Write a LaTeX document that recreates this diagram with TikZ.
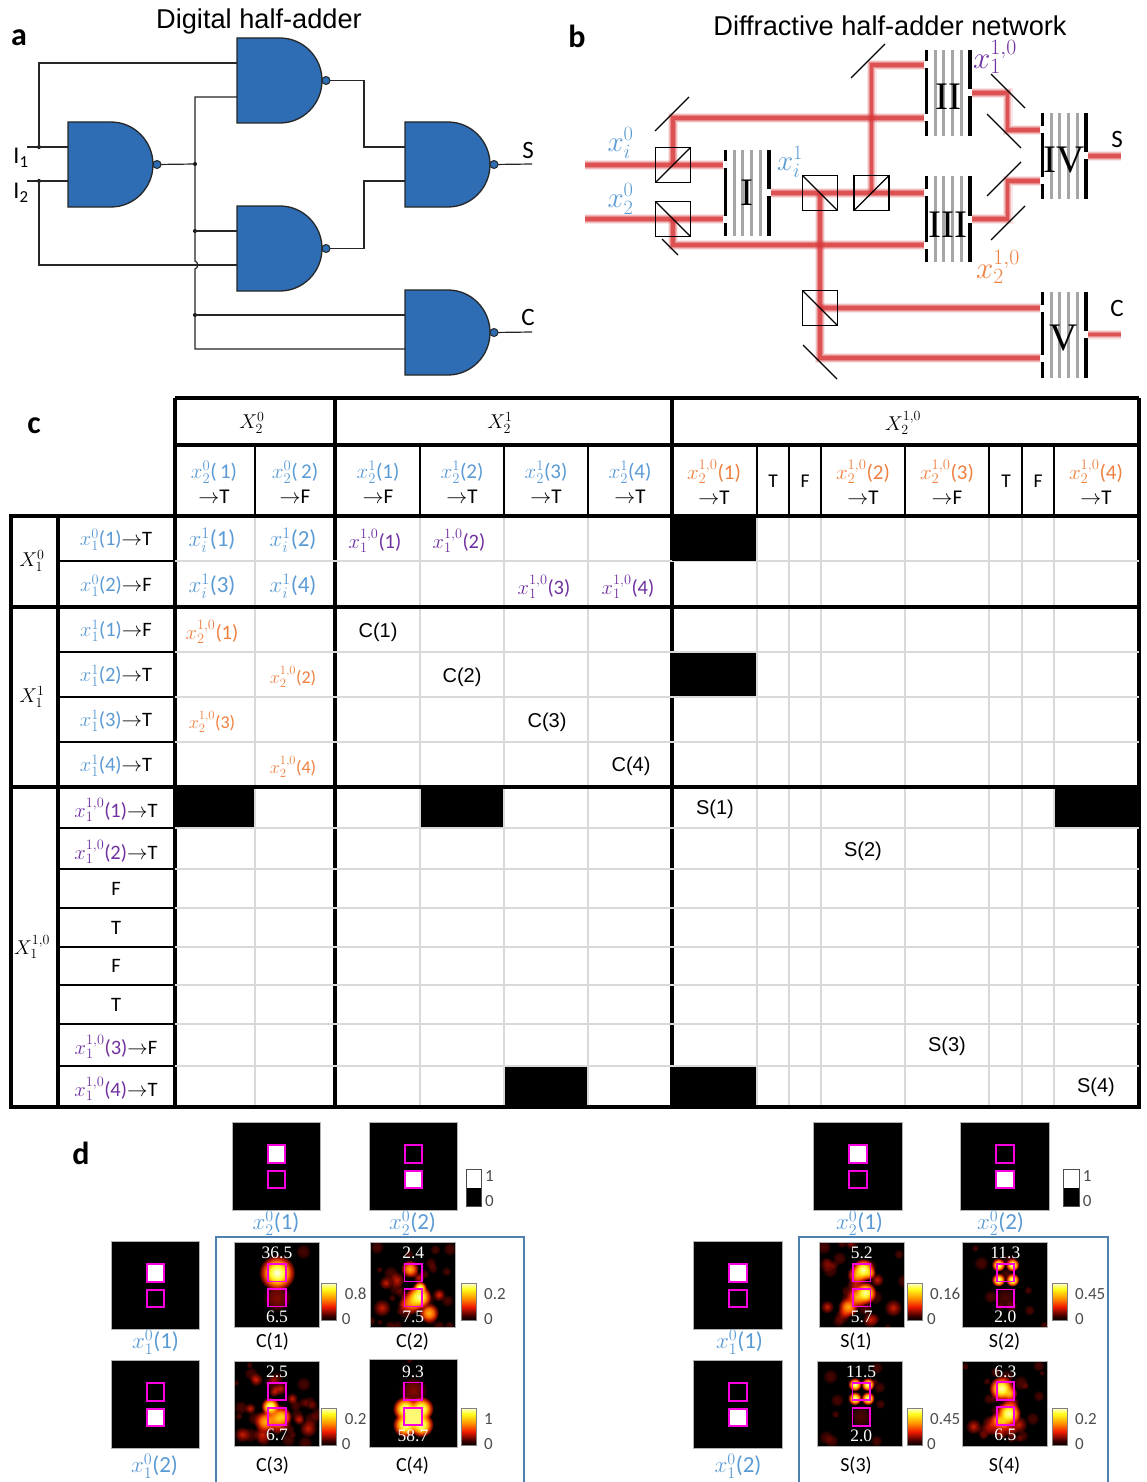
\documentclass[tikz,border=0pt]{standalone}
\usepackage{fix-cm}
\usepackage{fontspec}
\setmainfont{Carlito}
\newfontfamily\arialfont{Liberation Sans}
\newfontfamily\timesfont{Liberation Serif}
\usetikzlibrary{arrows.meta,positioning,calc,backgrounds}
\definecolor{SoftBlue}{RGB}{91,155,213}
\definecolor{SoftOrange}{RGB}{240,128,64}
\definecolor{SoftPurple}{RGB}{112,48,160}
\definecolor{GateBlue}{RGB}{46,109,180}
\definecolor{BeamRed}{RGB}{217,56,58}
\definecolor{BoxBlue}{RGB}{79,129,176}
\definecolor{GridGray}{RGB}{217,217,217}
\definecolor{MaskPink}{RGB}{250,0,225}
\pgfdeclareradialshading{hotA}{\pgfpointorigin}{rgb(0bp)=(1,1,0.7); rgb(9bp)=(1,0.95,0.15); rgb(15bp)=(1,0.5,0); rgb(20bp)=(0.7,0.08,0); rgb(25bp)=(0,0,0); rgb(50bp)=(0,0,0)}
\pgfdeclareradialshading{hotB}{\pgfpointorigin}{rgb(0bp)=(1,0.72,0.08); rgb(10bp)=(1,0.42,0); rgb(18bp)=(0.6,0.06,0); rgb(25bp)=(0,0,0); rgb(50bp)=(0,0,0)}
\pgfdeclareradialshading{hotC}{\pgfpointorigin}{rgb(0bp)=(0.8,0.12,0); rgb(12bp)=(0.45,0.03,0); rgb(25bp)=(0,0,0); rgb(50bp)=(0,0,0)}
\pgfdeclareradialshading{hotD}{\pgfpointorigin}{rgb(0bp)=(0.3,0.02,0); rgb(15bp)=(0.2,0.01,0); rgb(25bp)=(0,0,0); rgb(50bp)=(0,0,0)}
\pgfdeclareverticalshading{hotbar}{100bp}{rgb(0bp)=(0,0,0); rgb(25bp)=(0,0,0); rgb(32bp)=(0.25,0,0); rgb(44bp)=(0.95,0.1,0); rgb(56bp)=(1,0.6,0); rgb(68bp)=(1,1,0.1); rgb(75bp)=(1,1,0.75); rgb(100bp)=(1,1,0.75)}
\newcommand{\fsz}[1]{\fontsize{#1}{#1}\selectfont}
\newcommand{\xlab}[4]{\textcolor{#1}{$x_{#2}^{#3}$(#4)}}
% nand gate, top left corner given
\newcommand{\nandgate}[3]{
  \begin{scope}[shift={(#2,#3)}]
    \draw[gatebody] (0,0) -- (43,0) .. controls (66,0) and (85,19) .. (85,42.5)
      .. controls (85,66) and (66,85) .. (43,85) -- (0,85) -- cycle;
    \coordinate (#1a) at (0,25);
    \coordinate (#1b) at (0,59);
    \node[bubble] (#1n) at (89,42.5) {};
  \end{scope}
}
% stack of diffractive layers
\newcommand{\diffstack}[7]{
  \node[stackbox] (#1) at (#2,#3) {};
  \foreach \gx in {-13,-4.5,4,13}
    \draw[graylayer] ($(#1.north)+(\gx,0)$) -- ($(#1.south)+(\gx,0)$);
  \draw[blacklayer] (#1.north west) -- (#1.south west);
  \draw[blacklayer] (#1.north east) -- (#1.south east);
  \foreach \gy in {#6}
    \fill[white] ($(#1.west |- 0,\gy)+(-1.8,-3.5)$) rectangle ($(#1.west |- 0,\gy)+(1.8,3.5)$);
  \foreach \gy in {#7}
    \fill[white] ($(#1.east |- 0,\gy)+(-1.8,-3.5)$) rectangle ($(#1.east |- 0,\gy)+(1.8,3.5)$);
  \node[stacklab] (#1t) at (#2,#3+#5) {#4};
}
\newcommand{\inputimg}[5]{
  \begin{scope}[shift={(#2,#3)}]
    \node[blackimg] (#1) at (44.5,44.5) {};
    \node[magsq,fill=#4] (#1u) at (44.5,32) {};
    \node[magsq,fill=#5] (#1d) at (44.5,57.5) {};
  \end{scope}
}
% x, y, size, noise count, blobs
\newcommand{\heatmap}[5]{
  \begin{scope}[shift={(#1,#2)}]
    \fill[black] (0,0) rectangle (#3,#3);
    \begin{scope}
      \clip (0,0) rectangle (#3,#3);
      \foreach \k in {1,...,#4}{
        \pgfmathsetmacro\nx{rnd*#3}
        \pgfmathsetmacro\ny{rnd*#3}
        \pgfmathsetmacro\nr{3+rnd*5}
        \shade[shading=hotD,blend mode=screen] (\nx,\ny) circle[radius=\nr];
      }
      \foreach \bx/\by/\br/\bs in {#5}
        \shade[shading=hot\bs,blend mode=screen] (\bx,\by) circle[radius=\br*1.15];
    \end{scope}
    \draw[gray!60,line width=.6] (0,0) rectangle (#3,#3);
  \end{scope}
}
% magenta squares and the two numbers of a map
\newcommand{\maplabs}[8]{
  \begin{scope}[shift={(#2,#3)}]
    \node[magsq] (#1u) at (#4,#5) {};
    \node[magsq] (#1d) at (#4,#6) {};
    \node[valtxt] (#1t) at (#4,#5-19.5) {#7};
    \node[valtxt] (#1b) at (#4,#6+19) {#8};
  \end{scope}
}
\newcommand{\hotscale}[6]{
  \shade[shading=hotbar,draw=gray,line width=1] (#2,#3) rectangle ++(15,37);
  \node[barlab,anchor=west] (#1h) at (#2+#4,#3+10) {#5};
  \node[barlab,anchor=west] (#1l) at (#2+#6,#3+35.5) {0};
}
\newcommand{\binscale}[3]{
  \fill[black] (#2,#3+18.5) rectangle ++(15.5,18.5);
  \draw[black!70,line width=1] (#2,#3) rectangle ++(15.5,37);
  \node[barlab,anchor=west] (#1h) at (#2+19,#3+7) {1};
  \node[barlab,anchor=west] (#1l) at (#2+19,#3+32) {0};
}

\begin{document}
\begin{tikzpicture}[
    x=1pt,y=-1pt,
    gatebody/.style={draw=black!85,line width=1.3,fill=GateBlue},
    bubble/.style={circle,draw=black!85,line width=1,fill=GateBlue,minimum size=8,inner sep=0,outer sep=0},
    wire/.style={draw=black!85,line width=1.2},
    junc/.style={circle,fill=black,minimum size=4,inner sep=0,outer sep=0},
    beam/.style={draw=BeamRed,line width=3.2,opacity=.7,
      preaction={draw=BeamRed,line width=5.2,opacity=.35},
      preaction={draw=BeamRed,line width=7.4,opacity=.25},
      preaction={draw=BeamRed,line width=10,opacity=.12}},
    bsbox/.style={draw=black,line width=1.3,minimum size=35,inner sep=0,outer sep=0},
    stackbox/.style={minimum width=43.5,minimum height=86,inner sep=0,outer sep=0},
    graylayer/.style={draw=black!35,line width=3},
    blacklayer/.style={draw=black,line width=3.5},
    stacklab/.style={font=\timesfont\fsz{39},inner sep=0},
    mirror/.style={draw=black,line width=1.2},
    panellab/.style={font=\bfseries\fsz{32},inner sep=0},
    title/.style={font=\arialfont\fsz{27.2},inner sep=0},
    bigtxt/.style={font=\fsz{25},inner sep=0},
    mathlab/.style={font=\fsz{29},inner sep=0},
    mathlabb/.style={font=\fsz{31},inner sep=0},
    cell/.style={font=\fsz{20},inner sep=0},
    cellh/.style={font=\fsz{21},inner sep=0,align=center},
    cellr/.style={font=\fsz{20.5},inner sep=0},
    celli/.style={font=\fsz{23},inner sep=0},
    cellb/.style={font=\fsz{20.5},inner sep=0},
    cellc/.style={font=\fsz{18},inner sep=0},
    truth/.style={font=\arialfont\fsz{20},inner sep=0},
    major/.style={draw=black,line width=3.4},
    minor/.style={draw=black,line width=2.4},
    grid/.style={draw=GridGray,line width=2},
    blackimg/.style={fill=black,draw=gray!60,line width=.6,minimum size=88.5,inner sep=0,outer sep=0},
    magsq/.style={draw=MaskPink,line width=1.9,minimum size=17.5,inner sep=0,outer sep=0},
    valtxt/.style={font=\timesfont\fsz{17.5},text=white,inner sep=0},
    barlab/.style={font=\fsz{17},text=black!70,inner sep=0},
    capt/.style={font=\fsz{20},inner sep=0},
    xcapt/.style={font=\fsz{23},inner sep=0},
    panelbox/.style={draw=BoxBlue,line width=1.8},
  ]
  \useasboundingbox (0,0) rectangle (1146,1482);
  \begin{scope}[on background layer]
    \fill[white] (0,0) rectangle (1146,1482);
  \end{scope}

  % --- a: gates
  \node[title] (titleA) at (259,21.5) {Digital half-adder};
  \node[panellab] (labA) at (19,38) {a};
  \nandgate{gi}{68}{122}
  \nandgate{gii}{237}{38}
  \nandgate{giii}{405}{122}
  \nandgate{giv}{237}{206}
  \nandgate{gv}{405}{290}
  \node[bigtxt,font=\fsz{24}] (inA) at (21,158) {I$_{\mathrm{1}}$};
  \node[bigtxt,font=\fsz{24}] (inB) at (21,193) {I$_{\mathrm{2}}$};
  \node[bigtxt] (outS) at (528,150) {S};
  \node[bigtxt] (outC) at (528,317) {C};
  \node[junc] (ja) at (39,147) {};
  \node[junc] (jb) at (39,181) {};
  \node[junc] (jc) at (195,164) {};
  \node[junc] (jd) at (195,231) {};
  \node[junc] (je) at (195,315) {};
  \coordinate (ia) at (27,147);
  \coordinate (ib) at (27,181);
  \coordinate (hopa) at (195,261);
  \coordinate (hopb) at (195,269);
  \coordinate (ka) at (364,114);
  \coordinate (kb) at (364,215);
  \coordinate (es) at (532,164);
  \coordinate (ec) at (532,332);
  \draw[wire] (ia) -- (gia);
  \draw[wire] (ib) -- (gib);
  \draw[wire] (ja.center) |- (giia);
  \draw[wire] (jb.center) |- (givb);
  \draw[wire] (gin) -- (jc.center);
  \draw[wire] (giib) -| (hopa) .. controls +(3.5,1) and +(3.5,-1) .. (hopb) |- (gvb);
  \draw[wire] (jd.center) -- (giva);
  \draw[wire] (je.center) -- (gva);
  \draw[wire] (giin) -| (ka) |- (giiia);
  \draw[wire] (givn) -| (kb) |- (giiib);
  \draw[wire] (giiin) -- (es);
  \draw[wire] (gvn) -- (ec);

  % --- b: beams sit under the optics
  \node[title] (titleB) at (890,26) {Diffractive half-adder network};
  \node[panellab] (labB) at (577,36) {b};
  \node[bsbox] (bsa) at (673,165) {};
  \node[bsbox] (bsb) at (673,219) {};
  \node[bsbox] (bsc) at (820,193) {};
  \node[bsbox] (bsd) at (871.5,193) {};
  \node[bsbox] (bse) at (820,308) {};
  \draw[mirror] (bsa.south west) -- (bsa.north east);
  \draw[mirror] (bsb.north west) -- (bsb.south east);
  \draw[mirror] (bsc.north west) -- (bsc.south east);
  \draw[mirror] (bsd.south west) -- (bsd.north east);
  \draw[mirror] (bse.north west) -- (bse.south east);
  \diffstack{stI}{747}{193}{I}{0}{165,219}{193}
  \diffstack{stII}{948}{93}{II}{4}{65,118}{93}
  \diffstack{stIII}{948}{219}{III}{6}{193,245}{219}
  \diffstack{stIV}{1064}{156}{IV}{4}{130,181}{156}
  \diffstack{stV}{1064}{334.5}{V}{4}{308,358}{334.5}
  \coordinate (ina) at (585,165);
  \coordinate (inb) at (585,219);
  \coordinate (mca) at (673,118);
  \coordinate (mcb) at (673,245);
  \coordinate (mcc) at (820,358);
  \coordinate (mcd) at (871.5,65);
  \coordinate (mce) at (1007.5,93);
  \coordinate (mcf) at (1007.5,130);
  \coordinate (mcg) at (1007.5,219);
  \coordinate (mch) at (1007.5,181);
  \coordinate (ens) at (1121,156);
  \coordinate (enc) at (1121,334.5);
  \begin{scope}[on background layer]
    \draw[beam] (ina) -- (ina -| stI.west);
    \draw[beam] (inb) -- (inb -| stI.west);
    \draw[beam] (bsa.center) -- (mca) -- (mca -| stII.west);
    \draw[beam] (bsb.center) -- (mcb) -- (mcb -| stIII.west);
    \draw[beam] (stI.east) -- (stI.east -| stIII.west);
    \draw[beam] (bsc.center) -- (mcc) -- (mcc -| stV.west);
    \draw[beam] (bse.center) -- (bse.center -| stV.west);
    \draw[beam] (bsd.center) -- (mcd) -- (mcd -| stII.west);
    \draw[beam] (stII.east) -- (mce) -- (mcf) -- (mcf -| stIV.west);
    \draw[beam] (stIII.east) -- (mcg) -- (mch) -- (mch -| stIV.west);
    \draw[beam] (stIV.east) -- (ens);
    \draw[beam] (stV.east) -- (enc);
  \end{scope}
  \foreach \ax/\ay/\bx/\by in {655/131/689/97, 662/239/678/255, 851/78/885/44, 991/74/1025/108,
      987/114/1021/148, 987/196/1021/162, 991/240/1025/206, 803/345/837/379}
    \draw[mirror] (\ax,\ay) -- (\bx,\by);
  \node[mathlab,text=SoftBlue] (lxa) at (620.5,143) {$x_i^0$};
  \node[mathlab,text=SoftBlue] (lxb) at (620.5,199) {$x_2^0$};
  \node[mathlab,text=SoftBlue] (lxc) at (790,162) {$x_i^1$};
  \node[mathlabb,text=SoftPurple] (lxd) at (995,57) {$x_1^{1,0}$};
  \node[mathlabb,text=SoftOrange] (lxe) at (998,267) {$x_2^{1,0}$};
  \node[bigtxt] (outSb) at (1117,139) {S};
  \node[bigtxt] (outCb) at (1117,308) {C};

  % --- c: table, black cells first
  \node[panellab] (labC) at (34,426) {c};
  \foreach \ca/\ra/\cb/\rb in {672/516/756/561, 672/652/756/697, 175/787/255/828, 421/787/504/828,
      1055/787/1139/828, 504/1066/588/1107, 672/1066/756/1107}
    \fill[black] (\ca,\ra) rectangle (\cb,\rb);
  \foreach \c in {255,420,504,588,757,789,821,905,989,1022,1054}{
    \draw[grid] (\c,516) -- (\c,1107);
    \draw[minor] (\c,445) -- (\c,516);
  }
  \foreach \c in {175,335,672,1139}
    \draw[major] (\c,398) -- (\c,1107);
  \foreach \c in {11,58}
    \draw[major] (\c,516) -- (\c,1107);
  \foreach \r in {561,652,697,742,828,869,908,947,985,1024,1066}{
    \draw[grid] (175,\r) -- (1139,\r);
    \draw[minor] (58,\r) -- (175,\r);
  }
  \foreach \r in {398,445}
    \draw[major] (175,\r) -- (1139,\r);
  \foreach \r in {516,607,787,1107}
    \draw[major] (9.3,\r) -- (1140.7,\r);
  % redraw what the grid crosses
  \foreach \ca/\ra/\cb/\rb in {672/518/756/561, 672/654/756/695}
    \fill[black] (\ca,\ra) rectangle (\cb,\rb);
  \foreach \tx/\tlab in {252/{$X_2^0$}, 500/{$X_2^1$}, 903/{$X_2^{1,0}$}}
    \node[cell] (hd\tx) at (\tx,423) {\tlab};
  \foreach \ty/\tlab in {561/{$X_1^0$}, 697/{$X_1^1$}, 947/{$X_1^{1,0}$}}
    \node[cell] (sd\ty) at (32,\ty) {\tlab};
  \foreach \tx/\tlab/\tend in {
      214/{\xlab{SoftBlue}{2}{0}{\,1}}/T, 295/{\xlab{SoftBlue}{2}{0}{\,2}}/F,
      378/{\xlab{SoftBlue}{2}{1}{1}}/F, 462/{\xlab{SoftBlue}{2}{1}{2}}/T,
      546/{\xlab{SoftBlue}{2}{1}{3}}/T, 630/{\xlab{SoftBlue}{2}{1}{4}}/T,
      714/{\xlab{SoftOrange}{2}{1,0}{1}}/T, 863/{\xlab{SoftOrange}{2}{1,0}{2}}/T,
      947/{\xlab{SoftOrange}{2}{1,0}{3}}/F, 1096/{\xlab{SoftOrange}{2}{1,0}{4}}/T}
    \node[cellh] (hc\tx) at (\tx,482) {\tlab\\[4pt]$\rightarrow$\tend};
  \foreach \tx/\tlab in {773/T, 805/F, 1006/T, 1038/F}
    \node[cell,font=\fsz{19.5}] (hs\tx) at (\tx,481.5) {\tlab};
  \foreach \ty/\tlab in {
      540/{\xlab{SoftBlue}{1}{0}{1}$\rightarrow$T}, 586/{\xlab{SoftBlue}{1}{0}{2}$\rightarrow$F},
      631/{\xlab{SoftBlue}{1}{1}{1}$\rightarrow$F}, 676/{\xlab{SoftBlue}{1}{1}{2}$\rightarrow$T},
      721/{\xlab{SoftBlue}{1}{1}{3}$\rightarrow$T}, 766/{\xlab{SoftBlue}{1}{1}{4}$\rightarrow$T},
      810/{\xlab{SoftPurple}{1}{1,0}{1}$\rightarrow$T}, 852/{\xlab{SoftPurple}{1}{1,0}{2}$\rightarrow$T},
      889/F, 928/T, 966/F, 1005/T,
      1047/{\xlab{SoftPurple}{1}{1,0}{3}$\rightarrow$F}, 1089/{\xlab{SoftPurple}{1}{1,0}{4}$\rightarrow$T}}
    \node[cellr] (rw\ty) at (116,\ty) {\tlab};
  \foreach \tx/\ty/\tn in {212/540/1, 293/540/2, 212/586/3, 293/586/4}
    \node[celli] (ci\tn) at (\tx,\ty) {\xlab{SoftBlue}{i}{1}{\tn}};
  \foreach \tx/\ty/\tn in {375/541/1, 459/541/2, 544/587/3, 628/587/4}
    \node[cellb] (cp\tn) at (\tx,\ty) {\xlab{SoftPurple}{1}{1,0}{\tn}};
  \node[cellb] (coa) at (212,632) {\xlab{SoftOrange}{2}{1,0}{1}};
  \node[cellc] (cob) at (293,677) {\xlab{SoftOrange}{2}{1,0}{2}};
  \node[cellc] (coc) at (212,722) {\xlab{SoftOrange}{2}{1,0}{3}};
  \node[cellc] (cod) at (293,767) {\xlab{SoftOrange}{2}{1,0}{4}};
  \foreach \tx/\ty/\tn in {378/632/1, 462/677/2, 547/722/3, 631/766.5/4}
    \node[truth] (cc\tn) at (\tx,\ty) {C(\tn)};
  \foreach \tx/\ty/\tn in {715/809.5/1, 863/851.5/2, 947/1046.5/3, 1096/1087.5/4}
    \node[truth] (cs\tn) at (\tx,\ty) {S(\tn)};

  % --- d: carry maps
  \node[panellab] (labD) at (81,1153) {d};
  \inputimg{ca}{232}{1122}{white}{black}
  \inputimg{cb}{369}{1122}{black}{white}
  \inputimg{cc}{111}{1241}{white}{black}
  \inputimg{cd}{111}{1360}{black}{white}
  \binscale{cs}{466}{1169}
  \node[xcapt] (cxa) at (276,1223) {\xlab{SoftBlue}{2}{0}{1}};
  \node[xcapt] (cxb) at (412.5,1223) {\xlab{SoftBlue}{2}{0}{2}};
  \node[xcapt] (cxc) at (155.5,1342) {\xlab{SoftBlue}{1}{0}{1}};
  \node[xcapt] (cxd) at (154.5,1466) {\xlab{SoftBlue}{1}{0}{2}};
  \coordinate (cba) at (215.7,1484);
  \coordinate (cbb) at (524,1237);
  \coordinate (cbc) at (524,1484);
  \draw[panelbox] (cba) |- (cbb) -- (cbc);
  \pgfmathsetseed{4711}
  \heatmap{234}{1242.7}{85}{1}{43/30/16/A, 43/30/10/A, 43/55/13/D, 43/55/11/D}
  \heatmap{370.7}{1242.7}{85}{26}{39/26/8/B, 48/35/5/C, 48/54/11/A, 41/59/11/B, 49/45/6/A, 58/70/9/B, 26/37/7/C, 11/65/8/C, 33/62/6/C, 68/52/6/C, 60/20/5/D, 15/40/6/C}
  \heatmap{234}{1361.3}{85}{26}{36/45/8/A, 31/60/10/B, 43/57/13/B, 48/55/8/B, 46/27/6/C, 40/30/5/C, 58/37/5/C, 74/67/8/C, 8/73/7/C, 16/47/5/C, 28/73/8/C, 22/18/6/C, 65/58/5/C}
  \heatmap{369}{1359.7}{88}{1}{36/49/11/A, 52/49/11/A, 36/65/11/A, 52/65/11/A, 44/57/14/A, 44/31/13/D, 44/31/11/D}
  \node[fill=yellow!55!white,minimum size=15,inner sep=0,outer sep=0] (mdglow) at (413,1416.4) {};
  \maplabs{ma}{234}{1242.7}{43}{30}{55}{36.5}{6.5}
  \maplabs{mb}{370.7}{1242.7}{42.5}{30}{55}{2.4}{7.5}
  \maplabs{mc}{234}{1361.3}{43}{30}{55}{2.5}{6.7}
  \maplabs{md}{369}{1359.7}{44}{31.5}{56.7}{9.3}{58.7}
  \hotscale{ba}{321.7}{1283.7}{23}{0.8}{20}
  \hotscale{bb}{461}{1283.7}{23}{0.2}{23}
  \hotscale{bc}{321.7}{1408.7}{23}{0.2}{20}
  \hotscale{bd}{461}{1408.7}{23}{1}{23}
  \foreach \tx/\ty/\tn in {272.5/1342/1, 412.5/1342/2, 272.5/1466/3, 412.5/1466/4}
    \node[capt] (cap\tn) at (\tx,\ty) {C(\tn)};

  % --- d: sum maps
  \inputimg{sa}{813.5}{1122}{white}{black}
  \inputimg{sb}{960.5}{1122}{black}{white}
  \inputimg{sc}{693.5}{1241}{white}{black}
  \inputimg{sd}{693.5}{1360}{black}{white}
  \binscale{ss}{1063.7}{1169}
  \node[xcapt] (sxa) at (859.5,1223) {\xlab{SoftBlue}{2}{0}{1}};
  \node[xcapt] (sxb) at (1000.5,1223) {\xlab{SoftBlue}{2}{0}{2}};
  \node[xcapt] (sxc) at (739.5,1342) {\xlab{SoftBlue}{1}{0}{1}};
  \node[xcapt] (sxd) at (738,1466) {\xlab{SoftBlue}{1}{0}{2}};
  \coordinate (sba) at (799.3,1484);
  \coordinate (sbb) at (1107.7,1237);
  \coordinate (sbc) at (1107.7,1484);
  \draw[panelbox] (sba) |- (sbb) -- (sbc);
  \heatmap{819}{1242.7}{85}{26}{44/27/10/A, 38/32/9/B, 46/50/10/A, 38/54/10/B, 36/43/8/C, 29/64/9/B, 58/37/6/C, 74/65/8/C, 8/64/6/C, 51/77/7/C, 25/70/6/C, 50/30/6/B}
  \heatmap{962.3}{1242.7}{85}{10}{36/22/6/A, 50/22/6/A, 36/37/6/A, 50/37/6/A, 43/55/10/D}
  \heatmap{817.7}{1361.3}{85}{10}{37/23/6/A, 50/23/6/A, 37/37/6/A, 50/37/6/A, 43/55/10/D}
  \heatmap{962.3}{1361.3}{85}{24}{39/27/11/A, 47/32/7/B, 36/59/8/B, 46/52/11/A, 41/60/9/B, 49/42/7/C, 29/63/9/C, 11/65/7/C, 56/63/8/C, 38/70/7/C, 48/68/7/C}
  \maplabs{na}{819}{1242.7}{42.7}{30}{55}{5.2}{5.7}
  \maplabs{nb}{962.3}{1242.7}{43}{30}{55.5}{11.3}{2.0}
  \maplabs{nc}{817.7}{1361.3}{43.5}{30}{55.7}{11.5}{2.0}
  \maplabs{nd}{962.3}{1361.3}{43}{29.7}{54.7}{6.3}{6.5}
  \hotscale{ea}{907}{1283.7}{23}{0.16}{20}
  \hotscale{eb}{1052}{1283.7}{23}{0.45}{23}
  \hotscale{ec}{907}{1408.7}{23}{0.45}{20}
  \hotscale{ed}{1052}{1408.7}{23}{0.2}{23}
  \foreach \tx/\ty/\tn in {856/1342/1, 1004.5/1342/2, 856/1466/3, 1004.5/1466/4}
    \node[capt] (sap\tn) at (\tx,\ty) {S(\tn)};
\end{tikzpicture}
\end{document}
